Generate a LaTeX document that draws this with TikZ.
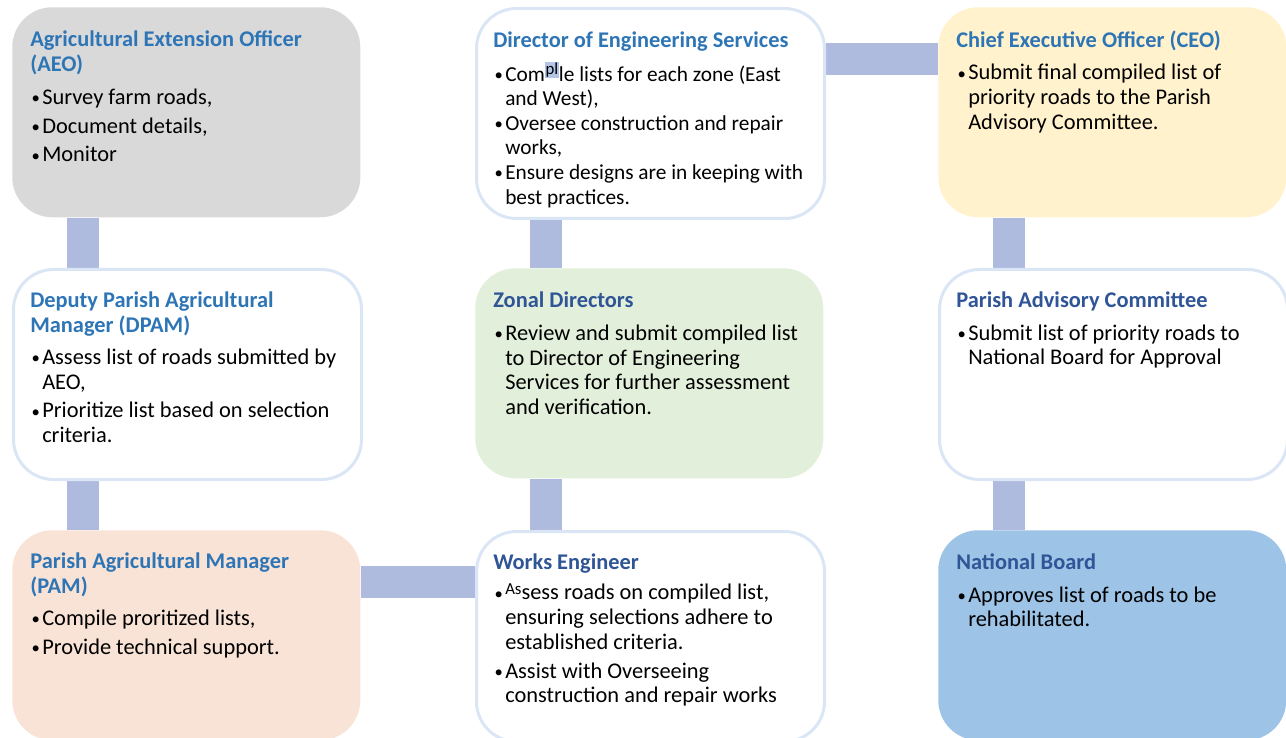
\documentclass[tikz,border=0pt]{standalone}
\usepackage{fontspec}
\setmainfont{Carlito}
\usetikzlibrary{backgrounds}
\definecolor{headlight}{HTML}{2E75B6}
\definecolor{headdark}{HTML}{2F5597}
\definecolor{linkblue}{HTML}{AFBADF}
\definecolor{edgeblue}{HTML}{DAE6F5}
\definecolor{boxgray}{HTML}{D9D9D9}
\definecolor{boxpeach}{HTML}{F9E3D6}
\definecolor{boxgreen}{HTML}{E2EFDA}
\definecolor{boxyellow}{HTML}{FFF2CC}
\definecolor{boxblue}{HTML}{9DC3E6}
\definecolor{markblue}{HTML}{B4C5E6}

% heading line, bullet line, continued bullet line
\newcommand{\head}[2][headlight]{{\color{#1}\bfseries #2}}
\newcommand{\bmark}{\makebox[9pt][l]{\hspace{1pt}\raisebox{0.6pt}{\fontsize{12.5}{12}\selectfont\textbullet}}}
\newcommand{\bitem}[1]{\bmark#1}
\newcommand{\bnext}[1]{\hspace*{9pt}#1}
\newcommand{\topstrut}{\rule{0pt}{14pt}}
\newcommand{\slim}{\fontsize{16}{17.5}\selectfont}

\begin{document}
\begin{tikzpicture}[
    x=0.75pt, y=-0.75pt,
    box/.style={rectangle, rounded corners=30pt, anchor=north west,
                minimum width=261pt, minimum height=157.5pt,
                inner sep=0pt, fill=#1},
    openbox/.style={box=white, draw=edgeblue, line width=2.25pt},
    txt/.style={anchor=north west, inner sep=0pt, align=left,
                font=\fontsize{16.8}{18.45}\selectfont},
    link/.style={draw=linkblue, line width=24pt},
]
\useasboundingbox (0,0) rectangle (1286,738);
\clip (0,0) rectangle (1286,738);

% left column
\node[box=boxgray]   (aeo)  at (12,7)   {};
\node[openbox]       (dpam) at (12,268) {};
\node[box=boxpeach]  (pam)  at (12,530) {};
% middle column
\node[openbox]       (des)   at (475,7)   {};
\node[box=boxgreen]  (zonal) at (475,268) {};
\node[openbox]       (works) at (475,530) {};
% right column
\node[box=boxyellow] (ceo)   at (938,7)   {};
\node[openbox]       (pac)   at (938,268) {};
\node[box=boxblue]   (board) at (938,530) {};

\node[txt] (aeo-txt) at ([shift={(18,21)}]aeo.north west) {%
    \topstrut\head{Agricultural Extension Officer}\\
    \head{(AEO)}\\[6.4pt]
    \bitem{Survey farm roads,}\\[3pt]
    \bitem{Document details,}\\[3pt]
    \bitem{Monitor}};
\node[txt] (dpam-txt) at ([shift={(18,21)}]dpam.north west) {%
    \topstrut\head{Deputy Parish Agricultural}\\
    \head{Manager (DPAM)}\\[5.6pt]
    \bitem{Assess list of roads submitted by}\\
    \bnext{AEO,}\\[3pt]
    \bitem{Prioritize list based on selection}\\
    \bnext{criteria.}};
\node[txt] (pam-txt) at ([shift={(18,20)}]pam.north west) {%
    \topstrut\head{Parish Agricultural Manager}\\
    \head{(PAM)}\\[5.6pt]
    \bitem{Compile proritized lists,}\\[3pt]
    \bitem{Provide technical support.}};

\node[txt] (des-txt) at ([shift={(18,22)}]des.north west) {%
    \topstrut\head{Director of Engineering Services}\\[6.4pt]
    \bitem{\slim Com\raisebox{5pt}{\fontsize{12.6}{12}\selectfont\setlength{\fboxsep}{0.5pt}\colorbox{markblue}{pl}}le lists for each zone (East}\\
    \bnext{\slim and West),}\\
    \bitem{\slim Oversee construction and repair}\\
    \bnext{\slim works,}\\
    \bitem{\slim Ensure designs are in keeping with}\\
    \bnext{\slim best practices.}};
\node[txt] (zonal-txt) at ([shift={(18,21)}]zonal.north west) {%
    \topstrut\head[headdark]{Zonal Directors}\\[6pt]
    \bitem{Review and submit compiled list}\\
    \bnext{to Director of Engineering}\\
    \bnext{Services for further assessment}\\
    \bnext{and verification.}};
\node[txt] (works-txt) at ([shift={(18,21)}]works.north west) {%
    \topstrut\head[headdark]{Works Engineer}\\[4pt]
    \bitem{\raisebox{3.75pt}{\fontsize{12.6}{12}\selectfont As}sess roads on compiled list,}\\
    \bnext{ensuring selections adhere to}\\
    \bnext{established criteria.}\\[3.5pt]
    \bitem{Assist with Overseeing}\\
    \bnext{construction and repair works}};

\node[txt] (ceo-txt) at ([shift={(18,22)}]ceo.north west) {%
    \topstrut\head{Chief Executive Officer (CEO)}\\[5.6pt]
    \bitem{Submit final compiled list of}\\
    \bnext{priority roads to the Parish}\\
    \bnext{Advisory Committee.}};
\node[txt] (pac-txt) at ([shift={(18,21)}]pac.north west) {%
    \topstrut\head[headdark]{Parish Advisory Committee}\\[5.6pt]
    \bitem{Submit list of priority roads to}\\
    \bnext{National Board for Approval}};
\node[txt] (board-txt) at ([shift={(18,21)}]board.north west) {%
    \topstrut\head[headdark]{National Board}\\[5.6pt]
    \bitem{Approves list of roads to be}\\
    \bnext{rehabilitated.}};

% connectors, behind the boxes
\begin{scope}[on background layer]
\draw[link] ([xshift=53pt]aeo.south west)   -- ([xshift=53pt]dpam.north west);
\draw[link] ([xshift=53pt]dpam.south west)  -- ([xshift=53pt]pam.north west);
\draw[link] ([yshift=-39pt]pam.north east)  -- ([yshift=-39pt]works.north west);
\draw[link] ([xshift=53pt]works.north west) -- ([xshift=53pt]zonal.south west);
\draw[link] ([xshift=53pt]zonal.north west) -- ([xshift=53pt]des.south west);
\draw[link] ([yshift=-39pt]des.north east)  -- ([yshift=-39pt]ceo.north west);
\draw[link] ([xshift=53pt]ceo.south west)   -- ([xshift=53pt]pac.north west);
\draw[link] ([xshift=53pt]pac.south west)   -- ([xshift=53pt]board.north west);
\end{scope}
\end{tikzpicture}
\end{document}
